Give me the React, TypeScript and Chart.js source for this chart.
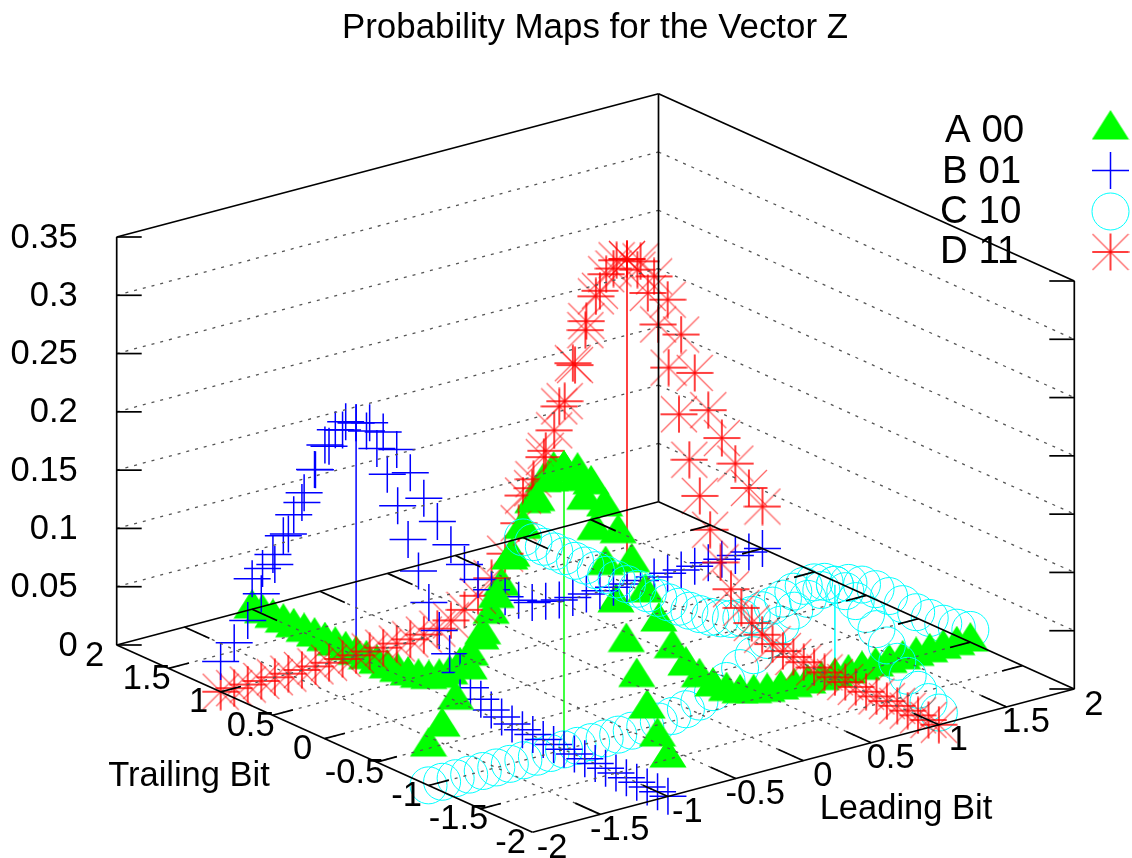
import React, { useEffect, useRef } from "react";
import { Chart, registerables } from "chart.js";
import { drawPoint } from "chart.js/helpers";

Chart.register(...registerables);

const chartTitle = "Probability Maps for the Vector Z";
const leadingLabel = "Leading Bit";
const trailingLabel = "Trailing Bit";
const legendLabels = ["A 00", "B 01", "C 10", "D 11"];
const zTicks = [0, 0.05, 0.1, 0.15, 0.2, 0.25, 0.3, 0.35];
const zTickLabels = ["0", "0.05", "0.1", "0.15", "0.2", "0.25", "0.3", "0.35"];
const planeTicks = [-2, -1.5, -1, -0.5, 0, 0.5, 1, 1.5, 2];
const planeTickLabels = ["-2", "-1.5", "-1", "-0.5", "0", "0.5", "1", "1.5", "2"];

// Sample positions along each bit axis
const samplePositions = [
  -2, -1.9, -1.8, -1.7, -1.6, -1.5, -1.4, -1.3, -1.2, -1.1, -1, -0.9, -0.8, -0.7, -0.6, -0.5, -0.4, -0.3, -0.2, -0.1,
  0, 0.1, 0.2, 0.3, 0.4, 0.5, 0.6, 0.7, 0.8, 0.9, 1, 1.1, 1.2, 1.3, 1.4, 1.5, 1.6, 1.7, 1.8, 1.9, 2,
];

// A 00: leading bit sweep at trailing = -1, trailing bit sweep at leading = -1
const aLeading = [
  0.033, 0.047, 0.067, 0.09, 0.117, 0.145, 0.175, 0.199, 0.219, 0.233, 0.24, 0.235, 0.221, 0.199, 0.173, 0.145, 0.116,
  0.088, 0.062, 0.044, 0.031, 0.02, 0.013, 0.008, 0.005, 0.003, 0.002, 0.001, 0.001, 0.0008, 0.0006, 0.0005, 0.0004,
  0.0003, 0.0002, 0.0002, 0.0001, 0.0001, 0.0001, 0.0001, 0.0001,
];
const aTrailing = [
  0.033, 0.047, 0.067, 0.09, 0.116, 0.146, 0.174, 0.2, 0.222, 0.234, 0.24, 0.235, 0.221, 0.199, 0.173, 0.145, 0.116,
  0.088, 0.062, 0.044, 0.031, 0.02, 0.013, 0.008, 0.005, 0.003, 0.002, 0.001, 0.001, 0.0008, 0.0006, 0.0005, 0.0004,
  0.0003, 0.0002, 0.0002, 0.0001, 0.0001, 0.0001, 0.0001, 0.0001,
];

// B 01: leading bit sweep at trailing = 1, trailing bit sweep at leading = -1
const bLeading = [
  0.026, 0.039, 0.055, 0.075, 0.097, 0.12, 0.144, 0.169, 0.186, 0.197, 0.2, 0.197, 0.186, 0.168, 0.145, 0.12, 0.097,
  0.074, 0.054, 0.038, 0.026, 0.017, 0.011, 0.006, 0.004, 0.002, 0.001, 0.001, 0.0006, 0.0005, 0.0004, 0.0003, 0.0002,
  0.0002, 0.0001, 0.0001, 0.0001, 0.0001, 0.0001, 0.0001, 0.0001,
];
const bTrailing = [
  0.0001, 0.0001, 0.0001, 0.0001, 0.0001, 0.0001, 0.0001, 0.0002, 0.0002, 0.0003, 0.0004, 0.0005, 0.0006, 0.001, 0.001,
  0.002, 0.004, 0.006, 0.011, 0.017, 0.026, 0.038, 0.054, 0.074, 0.097, 0.12, 0.145, 0.168, 0.186, 0.197, 0.2, 0.197,
  0.186, 0.169, 0.144, 0.12, 0.097, 0.075, 0.055, 0.039, 0.026,
];

// C 10: leading bit sweep at trailing = -1, trailing bit sweep at leading = 1
const cLeading = [
  0.0001, 0.0001, 0.0001, 0.0001, 0.0001, 0.0001, 0.0001, 0.0001, 0.0001, 0.0002, 0.0002, 0.0002, 0.0003, 0.0004,
  0.0006, 0.0009, 0.0015, 0.0026, 0.0043, 0.007, 0.0105, 0.0155, 0.022, 0.03, 0.038, 0.048, 0.058, 0.067, 0.074,
  0.0785, 0.08, 0.0785, 0.074, 0.067, 0.058, 0.048, 0.038, 0.03, 0.022, 0.0155, 0.0105,
];
const cTrailing = [
  0.0105, 0.0155, 0.022, 0.03, 0.038, 0.048, 0.058, 0.067, 0.074, 0.0785, 0.08, 0.0785, 0.074, 0.067, 0.058, 0.048,
  0.038, 0.03, 0.022, 0.0155, 0.0105, 0.007, 0.0043, 0.0026, 0.0015, 0.0009, 0.0006, 0.0004, 0.0003, 0.0002, 0.0002,
  0.0002, 0.0001, 0.0001, 0.0001, 0.0001, 0.0001, 0.0001, 0.0001, 0.0001, 0.0001,
];

// D 11: leading bit sweep at trailing = 1, trailing bit sweep at leading = 1
const dLeading = [
  0.0001, 0.0001, 0.0001, 0.0001, 0.0002, 0.0002, 0.0003, 0.0003, 0.0004, 0.0005, 0.0006, 0.0008, 0.001, 0.0015, 0.002,
  0.003, 0.005, 0.009, 0.015, 0.024, 0.036, 0.054, 0.077, 0.104, 0.133, 0.168, 0.202, 0.235, 0.258, 0.274, 0.279, 0.274,
  0.258, 0.235, 0.202, 0.166, 0.131, 0.104, 0.079, 0.055, 0.036,
];
const dTrailing = [
  0.0001, 0.0001, 0.0001, 0.0001, 0.0002, 0.0002, 0.0003, 0.0003, 0.0004, 0.0005, 0.0006, 0.0008, 0.001, 0.0015, 0.002,
  0.003, 0.005, 0.009, 0.015, 0.024, 0.036, 0.055, 0.079, 0.104, 0.131, 0.166, 0.202, 0.235, 0.258, 0.274, 0.279, 0.274,
  0.258, 0.235, 0.202, 0.168, 0.133, 0.104, 0.077, 0.054, 0.036,
];

// Fixed view of the 3D box, expressed in the units of the flat x/y scales
const FRONT = { x: 532.5, y: 832.3 };
const LEAD_VEC = { x: 541.8, y: -143.3 };
const TRAIL_VEC = { x: -415.8, y: -187.3 };
const Z_HEIGHT = 408;
const Z_MAX = 0.35;

function project(leading: number, trailing: number, prob: number) {
  const u = (leading + 2) / 4;
  const v = (trailing + 2) / 4;
  return {
    x: FRONT.x + u * LEAD_VEC.x + v * TRAIL_VEC.x,
    y: FRONT.y + u * LEAD_VEC.y + v * TRAIL_VEC.y - (prob / Z_MAX) * Z_HEIGHT,
  };
}

const leadSweep = (trailing: number, values: number[]) =>
  samplePositions.map((p, i) => project(p, trailing, values[i]));
const trailSweep = (leading: number, values: number[]) =>
  samplePositions.map((p, i) => project(leading, p, values[i]));

function makeStar() {
  const c = document.createElement("canvas");
  c.width = 38;
  c.height = 38;
  const g = c.getContext("2d")!;
  g.strokeStyle = "rgba(255,0,0,0.6)";
  g.lineWidth = 1.3;
  g.beginPath();
  g.moveTo(1, 1);
  g.lineTo(37, 37);
  g.moveTo(37, 1);
  g.lineTo(1, 37);
  g.stroke();
  g.strokeStyle = "#ff0000";
  g.lineWidth = 1.5;
  g.beginPath();
  g.moveTo(0.5, 19);
  g.lineTo(37.5, 19);
  g.moveTo(19, 0.5);
  g.lineTo(19, 37.5);
  g.stroke();
  return c;
}

function makeTriangle() {
  const c = document.createElement("canvas");
  c.width = 38;
  c.height = 40;
  const g = c.getContext("2d")!;
  g.fillStyle = "#00ff00";
  g.beginPath();
  g.moveTo(19, 0);
  g.lineTo(37.6, 29.5);
  g.lineTo(0.4, 29.5);
  g.closePath();
  g.fill();
  return c;
}

export default function App() {
  const ref = useRef<HTMLCanvasElement>(null);

  useEffect(() => {
    document.body.style.margin = "0";
    const star = makeStar();
    const triangle = makeTriangle();
    const font = (size: number) => ({ family: "'Liberation Sans', Arial, sans-serif", size });

    const triangleStyle = {
      pointStyle: triangle,
      pointRadius: 19,
      pointBackgroundColor: "#00ff00",
      pointBorderColor: "#00ff00",
      pointBorderWidth: 0,
    };
    const crossStyle = {
      pointStyle: "cross",
      pointRadius: 18.5,
      pointBorderColor: "#0000ff",
      pointBackgroundColor: "#0000ff",
      pointBorderWidth: 1.5,
    };
    const circleStyle = {
      pointStyle: "circle",
      pointRadius: 18.5,
      pointBorderColor: "#00ffff",
      pointBackgroundColor: "transparent",
      pointBorderWidth: 1,
    };
    const starStyle = {
      pointStyle: star,
      pointRadius: 18.5,
      pointBorderColor: "#ff0000",
      pointBackgroundColor: "#ff0000",
      pointBorderWidth: 1,
    };

    const stem = (leading: number, trailing: number, prob: number, color: string) => ({
      label: "stem",
      data: [project(leading, trailing, 0), project(leading, trailing, prob)],
      showLine: true,
      borderColor: color,
      borderWidth: 1.5,
      pointRadius: 0,
      order: 0,
    });

    // Split of the D trailing sweep: its far half sits under the A leading sweep
    const dTrailPts = trailSweep(1, dTrailing);

    const marks = (label: string, data: any[], style: any, layer: number) => ({
      label,
      data,
      showLine: false,
      order: -layer,
      ...style,
    });

    const datasets: any[] = [
      stem(-1, -1, aLeading[10], "#00ff00"),
      stem(-1, 1, bLeading[10], "#0000ff"),
      stem(1, -1, cLeading[30], "#00ffff"),
      stem(1, 1, dLeading[30], "#ff0000"),
      marks(legendLabels[2], leadSweep(-1, cLeading), circleStyle, 1),
      marks(legendLabels[0], trailSweep(-1, aTrailing), triangleStyle, 2),
      marks(legendLabels[3], leadSweep(1, dLeading), starStyle, 3),
      marks(legendLabels[3], dTrailPts.slice(30), starStyle, 4),
      marks(legendLabels[1], trailSweep(-1, bTrailing), crossStyle, 5),
      marks(legendLabels[1], leadSweep(1, bLeading), crossStyle, 6),
      marks(legendLabels[0], leadSweep(-1, aLeading), triangleStyle, 7),
      marks(legendLabels[2], trailSweep(1, cTrailing), circleStyle, 8),
      marks(legendLabels[3], dTrailPts.slice(0, 30), starStyle, 9),
    ];

    const legendStyles = [triangleStyle, crossStyle, circleStyle, starStyle];

    const boxPlugin = {
      id: "box3d",
      afterDatasetsDraw(chart: any) {
        const ctx = chart.ctx as CanvasRenderingContext2D;
        const sx = chart.scales.x;
        const sy = chart.scales.y;
        const P = (l: number, t: number, z: number) => {
          const p = project(l, t, z);
          return [sx.getPixelForValue(p.x), sy.getPixelForValue(p.y)];
        };
        const line = (a: number[], b: number[]) => {
          ctx.beginPath();
          ctx.moveTo(a[0], a[1]);
          ctx.lineTo(b[0], b[1]);
          ctx.stroke();
        };

        ctx.save();

        // dotted grid
        ctx.strokeStyle = "#555555";
        ctx.lineWidth = 1.3;
        ctx.setLineDash([3, 6]);
        planeTicks.slice(1, -1).forEach((v) => {
          line(P(v, -2, 0), P(v, 2, 0));
          line(P(-2, v, 0), P(2, v, 0));
        });
        zTicks.slice(1, -1).forEach((z) => {
          line(P(-2, 2, z), P(2, 2, z));
          line(P(2, 2, z), P(2, -2, z));
        });
        ctx.setLineDash([]);

        // border and ticks
        ctx.strokeStyle = "#000000";
        ctx.lineWidth = 1.7;
        line(P(-2, -2, 0), P(2, -2, 0));
        line(P(2, -2, 0), P(2, 2, 0));
        line(P(2, 2, 0), P(-2, 2, 0));
        line(P(-2, 2, 0), P(-2, -2, 0));
        line(P(-2, 2, 0), P(-2, 2, Z_MAX));
        line(P(2, 2, 0), P(2, 2, Z_MAX));
        line(P(2, -2, 0), P(2, -2, Z_MAX));
        line(P(-2, 2, Z_MAX), P(2, 2, Z_MAX));
        line(P(2, 2, Z_MAX), P(2, -2, Z_MAX));

        planeTicks.slice(1, -1).forEach((v) => {
          line(P(v, -2, 0), P(v, -1.76, 0));
          line(P(v, 2, 0), P(v, 1.76, 0));
          line(P(-2, v, 0), P(-1.85, v, 0));
          line(P(2, v, 0), P(1.85, v, 0));
        });
        zTicks.forEach((z) => {
          const l = P(-2, 2, z);
          const r = P(2, -2, z);
          line(l, [l[0] + 25, l[1]]);
          line(r, [r[0] - 25, r[1]]);
        });

        // tick labels
        ctx.fillStyle = "#000000";
        ctx.font = "34.5px 'Liberation Sans', Arial, sans-serif";
        ctx.textBaseline = "middle";
        ctx.textAlign = "right";
        zTicks.forEach((z, i) => {
          const l = P(-2, 2, z);
          ctx.fillText(zTickLabels[i], l[0] - 39, l[1] + 1);
        });
        ctx.textAlign = "center";
        planeTicks.forEach((v, i) => {
          const a = P(v, -2, 0);
          ctx.fillText(planeTickLabels[i], a[0] + 19.5, a[1] + 16);
          const b = P(-2, v, 0);
          ctx.fillText(planeTickLabels[i], b[0] - 22, b[1] + 11);
        });

        // axis titles
        ctx.fillText(leadingLabel, sx.getPixelForValue(906), sy.getPixelForValue(809));
        ctx.fillText(trailingLabel, sx.getPixelForValue(189), sy.getPixelForValue(776));

        // legend
        const rows = [130, 170.5, 211.5, 252];
        const textLeft = [945, 942, 940, 940];
        const textRows = [131.5, 172, 212.5, 252.5];
        ctx.font = "38.5px 'Liberation Sans', Arial, sans-serif";
        ctx.textAlign = "left";
        legendLabels.forEach((label, i) => {
          ctx.fillStyle = "#000000";
          ctx.fillText(label, sx.getPixelForValue(textLeft[i]), sy.getPixelForValue(textRows[i]));
          const s: any = legendStyles[i];
          ctx.fillStyle = s.pointBackgroundColor;
          ctx.strokeStyle = s.pointBorderColor;
          ctx.lineWidth = s.pointBorderWidth;
          drawPoint(
            ctx,
            { pointStyle: s.pointStyle, radius: s.pointRadius, rotation: 0, borderWidth: s.pointBorderWidth },
            sx.getPixelForValue(1110.5),
            sy.getPixelForValue(rows[i])
          );
        });
        ctx.restore();
      },
    };

    const chart = new Chart(ref.current!, {
      type: "scatter",
      data: { datasets },
      plugins: [boxPlugin],
      options: {
        animation: false,
        responsive: false,
        devicePixelRatio: 1,
        layout: { autoPadding: false, padding: { left: 58, right: 0, top: 0, bottom: 0 } },
        scales: {
          x: { type: "linear", display: false, min: 58, max: 1132 },
          y: { type: "linear", display: false, min: 50, max: 858, reverse: true },
        },
        elements: { line: { tension: 0 } },
        plugins: {
          legend: { display: false },
          tooltip: { enabled: false },
          title: {
            display: true,
            text: chartTitle,
            fullSize: false,
            color: "#000000",
            font: { ...font(34.9), weight: "normal" },
            padding: { top: 7.6, bottom: 0.52 },
          },
        },
      },
    } as any);
    return () => chart.destroy();
  }, []);

  return <canvas ref={ref} width={1132} height={858} style={{ display: "block", filter: "blur(0.5px)" }} />;
}
